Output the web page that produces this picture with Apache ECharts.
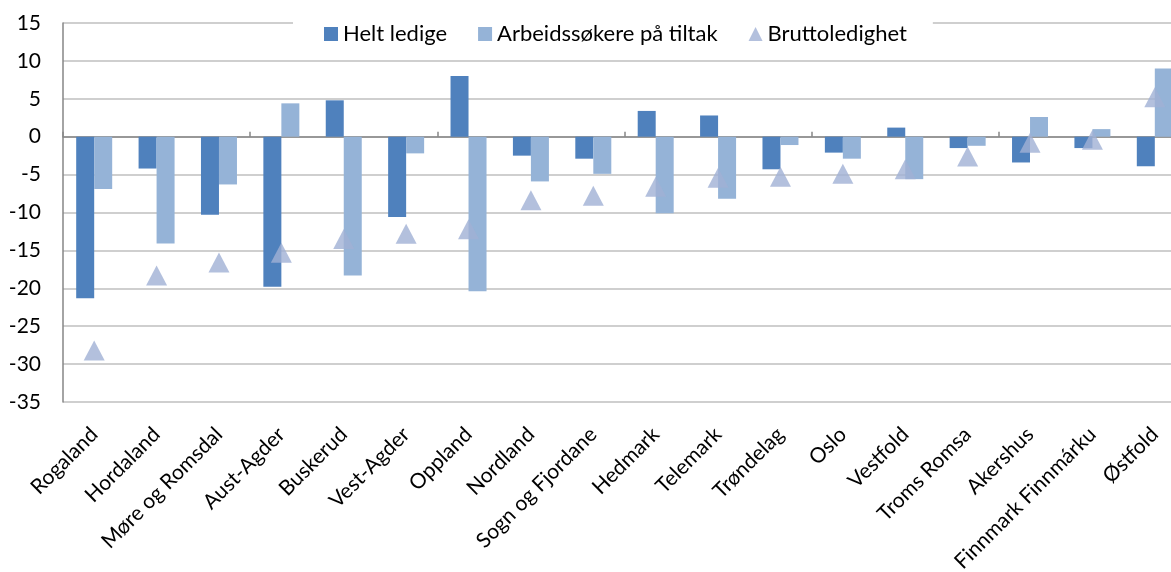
<!DOCTYPE html>
<html>
<head>
<meta charset="utf-8">
<script src="https://cdn.jsdelivr.net/npm/echarts@6/dist/echarts.min.js"></script>
<style>
  html, body { margin: 0; padding: 0; background: #fff; }
  #chart { width: 1171px; height: 572px; }
</style>
</head>
<body>
<div id="chart"></div>
<script>
// fylker
const categories = [
  "Rogaland", "Hordaland", "Møre og Romsdal", "Aust-Agder", "Buskerud",
  "Vest-Agder", "Oppland", "Nordland", "Sogn og Fjordane", "Hedmark",
  "Telemark", "Trøndelag", "Oslo", "Vestfold", "Troms Romsa", "Akershus",
  "Finnmark Finnmárku", "Østfold"
];
const heltLedige = [-21.3, -4.2, -10.3, -19.8, 4.8, -10.6, 8.0, -2.5, -2.9, 3.4, 2.8, -4.3, -2.1, 1.2, -1.5, -3.4, -1.5, -3.9];
const tiltak = [-6.9, -14.1, -6.3, 4.4, -18.3, -2.2, -20.4, -5.9, -4.9, -10.1, -8.2, -1.1, -2.9, -5.6, -1.2, 2.6, 1.0, 9.0];
const brutto = [-28.2, -18.3, -16.6, -15.3, -13.5, -12.8, -12.2, -8.4, -7.8, -6.6, -5.4, -5.3, -4.9, -4.3, -2.6, -0.8, -0.4, 5.2];
const yTicks = { min: -35, max: 15, step: 5 };

const font = "Lato";
const chart = echarts.init(document.getElementById("chart"));

const option = {
  animation: false,
  textStyle: { fontFamily: font },
  legend: {
    left: 293,
    top: 17,
    padding: [6, 26, 6, 31],
    backgroundColor: "#fff",
    itemGap: 31,
    itemWidth: 14,
    itemHeight: 14,
    textStyle: { fontSize: 22, color: "#000", fontFamily: font },
    data: [
      { name: "Helt ledige", icon: "rect" },
      { name: "Arbeidssøkere på tiltak", icon: "rect" },
      { name: "Bruttoledighet", icon: "triangle" }
    ]
  },
  grid: { left: 63, top: 23, right: -15, bottom: 170, outerBoundsMode: "none" },
  xAxis: [
    {
      type: "category",
      data: categories,
      axisLine: { show: false, onZero: false },
      axisTick: { show: false },
      axisLabel: {
        interval: 0,
        rotate: 45,
        margin: 29,
        fontSize: 21,
        color: "#000",
        fontFamily: font
      }
    },
    {
      type: "category",
      data: categories,
      axisLine: { onZero: true, lineStyle: { color: "#868686", width: 1.5 } },
      axisTick: { show: true, length: 5, lineStyle: { color: "#868686", width: 1.5 } },
      axisLabel: { show: false }
    }
  ],
  yAxis: {
    type: "value",
    min: yTicks.min,
    max: yTicks.max,
    interval: yTicks.step,
    axisLine: { show: true, lineStyle: { color: "#868686", width: 1.5 } },
    axisTick: { show: false },
    axisLabel: { fontSize: 21, color: "#000", margin: 22, fontFamily: font },
    splitLine: { lineStyle: { color: "#BFBFBF", width: 1.5 } }
  },
  series: [
    {
      name: "Helt ledige",
      type: "bar",
      data: heltLedige,
      barWidth: 18,
      barGap: "0%",
      itemStyle: { color: "#4F81BD" }
    },
    {
      name: "Arbeidssøkere på tiltak",
      type: "bar",
      data: tiltak,
      barWidth: 18,
      barGap: "0%",
      itemStyle: { color: "#95B3D7" }
    },
    {
      name: "Bruttoledighet",
      type: "scatter",
      data: brutto,
      symbol: "triangle",
      symbolSize: [21, 20],
      itemStyle: { color: "#A0B0D4" },
      z: 5
    }
  ]
};

chart.setOption(option);
</script>
</body>
</html>
